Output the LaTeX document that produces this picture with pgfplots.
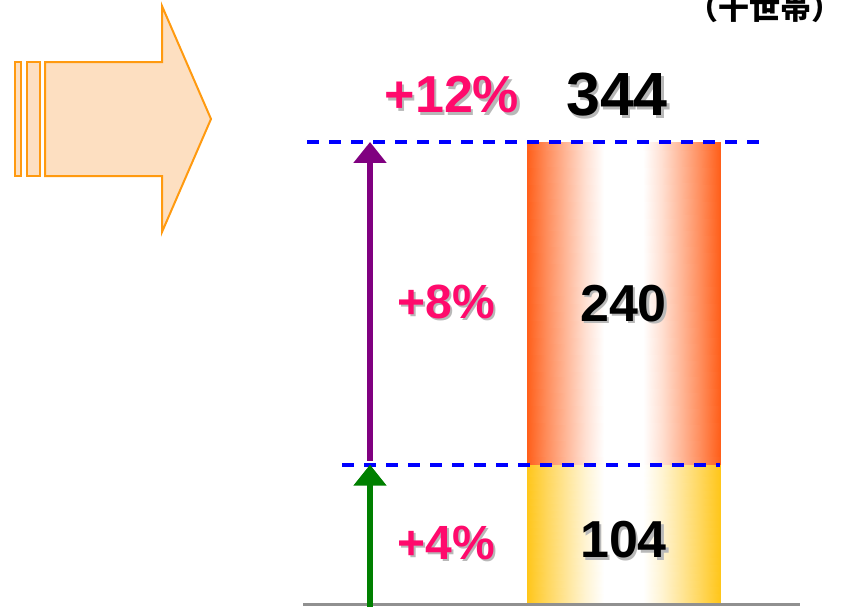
\documentclass[border=0pt]{standalone}
\usepackage{pgfplots}
\pgfplotsset{compat=1.18}
\usepackage{fontspec}
\setmainfont{Liberation Sans}
\newfontfamily\cjk{Noto Sans CJK JP}
\usetikzlibrary{arrows.meta}

\definecolor{pct}{HTML}{FF0A6C}
\definecolor{peach}{HTML}{FDDFC1}
\definecolor{peachEdge}{HTML}{FF9A10}
\definecolor{arrGreen}{HTML}{008000}
\definecolor{arrPurple}{HTML}{800080}
\definecolor{guide}{HTML}{0000FF}
\definecolor{base}{HTML}{909090}

% edge colour of each segment fading to white at the centre
\pgfplotsset{
  colormap={goldfade}{rgb255=(255,198,26) rgb255=(255,255,255)},
  colormap={redfade}{rgb255=(255,95,26) rgb255=(255,255,255)},
}

% shared frame
\pgfplotsset{frame/.style={
  at={(0,0)}, anchor=south west, scale only axis,
  width=420.5pt, height=303.5pt,
  xmin=0, xmax=8.41, ymin=-1.86, ymax=449.6,
  point meta min=0, point meta max=1,
  hide axis, clip=false}}

% bold label with a soft grey drop shadow
\newcommand\stxt[4]{%
  \node[text=black!28, font=\bfseries\fontsize{#2}{#2}\selectfont,
        xshift=1.1pt, yshift=-1.1pt] at (axis cs:#1) {#4};
  \node[text=#3, font=\bfseries\fontsize{#2}{#2}\selectfont] at (axis cs:#1) {#4};}

\begin{document}
\begin{tikzpicture}
\useasboundingbox (0,0) rectangle (420.5pt,303.5pt);

\begin{axis}[frame]
% lower segment: 0 to 104 thousand households
\addplot[surf, shader=interp, colormap name=goldfade, point meta=explicit, mesh/cols=10]
  coordinates {
  (5.270,0) [0] (5.463,0) [0.28] (5.656,0) [0.55] (5.849,0) [0.8] (6.042,0) [1]
  (6.428,0) [1] (6.621,0) [0.8] (6.814,0) [0.55] (7.007,0) [0.28] (7.200,0) [0]

  (5.270,104) [0] (5.463,104) [0.28] (5.656,104) [0.55] (5.849,104) [0.8] (6.042,104) [1]
  (6.428,104) [1] (6.621,104) [0.8] (6.814,104) [0.55] (7.007,104) [0.28] (7.200,104) [0]
  };
% upper segment: 240 more, up to 344
\addplot[surf, shader=interp, colormap name=redfade, point meta=explicit, mesh/cols=10]
  coordinates {
  (5.270,104) [0] (5.463,104) [0.28] (5.656,104) [0.55] (5.849,104) [0.8] (6.042,104) [1]
  (6.428,104) [1] (6.621,104) [0.8] (6.814,104) [0.55] (7.007,104) [0.28] (7.200,104) [0]

  (5.270,344) [0] (5.463,344) [0.28] (5.656,344) [0.55] (5.849,344) [0.8] (6.042,344) [1]
  (6.428,344) [1] (6.621,344) [0.8] (6.814,344) [0.55] (7.007,344) [0.28] (7.200,344) [0]
  };

\addplot[base, line width=1.5pt] coordinates {(3.03,0) (8.00,0)};
\addplot[guide, line width=2pt, dash pattern=on 6pt off 5pt]
  coordinates {(3.42,104) (7.20,104)};
\addplot[guide, line width=2pt, dash pattern=on 6pt off 5pt]
  coordinates {(3.07,344) (7.65,344)};
\addplot[arrGreen, line width=3pt, -{Triangle[width=16pt,length=10.5pt]}]
  coordinates {(3.70,-1.8) (3.70,104)};
\addplot[arrPurple, line width=3pt, -{Triangle[width=16pt,length=10.5pt]}]
  coordinates {(3.70,107) (3.70,344)};

\stxt{6.17,379}{30.5pt}{black}{344}
\stxt{6.235,224}{26pt}{black}{240}
\stxt{6.235,48}{26pt}{black}{104}
\stxt{4.52,379}{26pt}{pct}{+12\%}
\stxt{4.46,225}{24pt}{pct}{+8\%}
\stxt{4.46,46}{24pt}{pct}{+4\%}
\end{axis}

% block arrow and unit note
\begin{scope}[shift={(0pt,303.5pt)}, x=0.5pt, y=-0.5pt]
\draw[peachEdge, fill=peach, line width=1pt] (15,62) rectangle (21,176);
\draw[peachEdge, fill=peach, line width=1pt] (27,62) rectangle (40,176);
\draw[peachEdge, fill=peach, line width=1pt, line join=miter]
  (45,62) -- (162,62) -- (162,6) -- (211,119) -- (162,232) -- (162,176)
  -- (45,176) -- cycle;
\node[anchor=base, font=\cjk\bfseries\fontsize{15.5pt}{15.5pt}\selectfont]
  at (765,19) {（千世帯）};
\end{scope}
\end{tikzpicture}
\end{document}
